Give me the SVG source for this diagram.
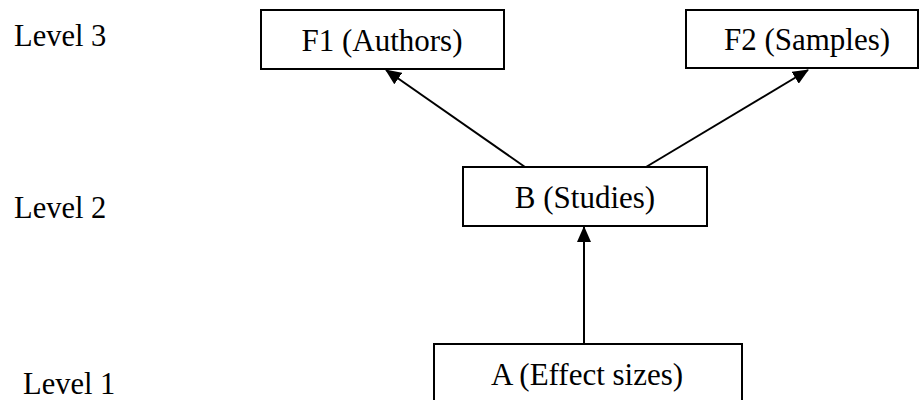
<svg xmlns="http://www.w3.org/2000/svg" width="920" height="400" viewBox="0 0 920 400">
<style>
.box{fill:#fff;stroke:#000;stroke-width:2}
.t{font-size:31px;fill:#000}
.lv{font-size:30.5px;fill:#000}
.c{stroke:#000;stroke-width:2;fill:none;marker-end:url(#ah)}
</style>
<defs>
<marker id="ah" markerWidth="16" markerHeight="14" refX="15" refY="7" orient="auto" markerUnits="userSpaceOnUse">
<path d="M0,0 L16,7 L0,14 Z" fill="#000"/>
</marker>
</defs>
<rect width="920" height="400" fill="#fff"/>
<g id="levels" font-family="Liberation Serif, Times New Roman, serif">
<text class="lv" x="14" y="46">Level 3</text>
<text class="lv" x="14" y="218">Level 2</text>
<text class="lv" x="23" y="394">Level 1</text>
</g>
<g id="connectors">
<line class="c" x1="525" y1="167" x2="386" y2="70"/>
<line class="c" x1="646" y1="167" x2="808" y2="70"/>
<line class="c" x1="584" y1="344" x2="584" y2="227"/>
</g>
<g id="F1" font-family="Liberation Serif, Times New Roman, serif">
<rect class="box" x="261" y="10" width="243" height="59"/>
<text class="t" x="382" y="51" text-anchor="middle">F1 (Authors)</text>
</g>
<g id="F2" font-family="Liberation Serif, Times New Roman, serif">
<rect class="box" x="686" y="10" width="232" height="58"/>
<text class="t" x="807" y="50" text-anchor="middle">F2 (Samples)</text>
</g>
<g id="B" font-family="Liberation Serif, Times New Roman, serif">
<rect class="box" x="463" y="167" width="244" height="59"/>
<text class="t" x="585" y="208" text-anchor="middle">B (Studies)</text>
</g>
<g id="A" font-family="Liberation Serif, Times New Roman, serif">
<rect class="box" x="434" y="344" width="308" height="70"/>
<text class="t" x="587" y="385" text-anchor="middle">A (Effect sizes)</text>
</g>
</svg>
